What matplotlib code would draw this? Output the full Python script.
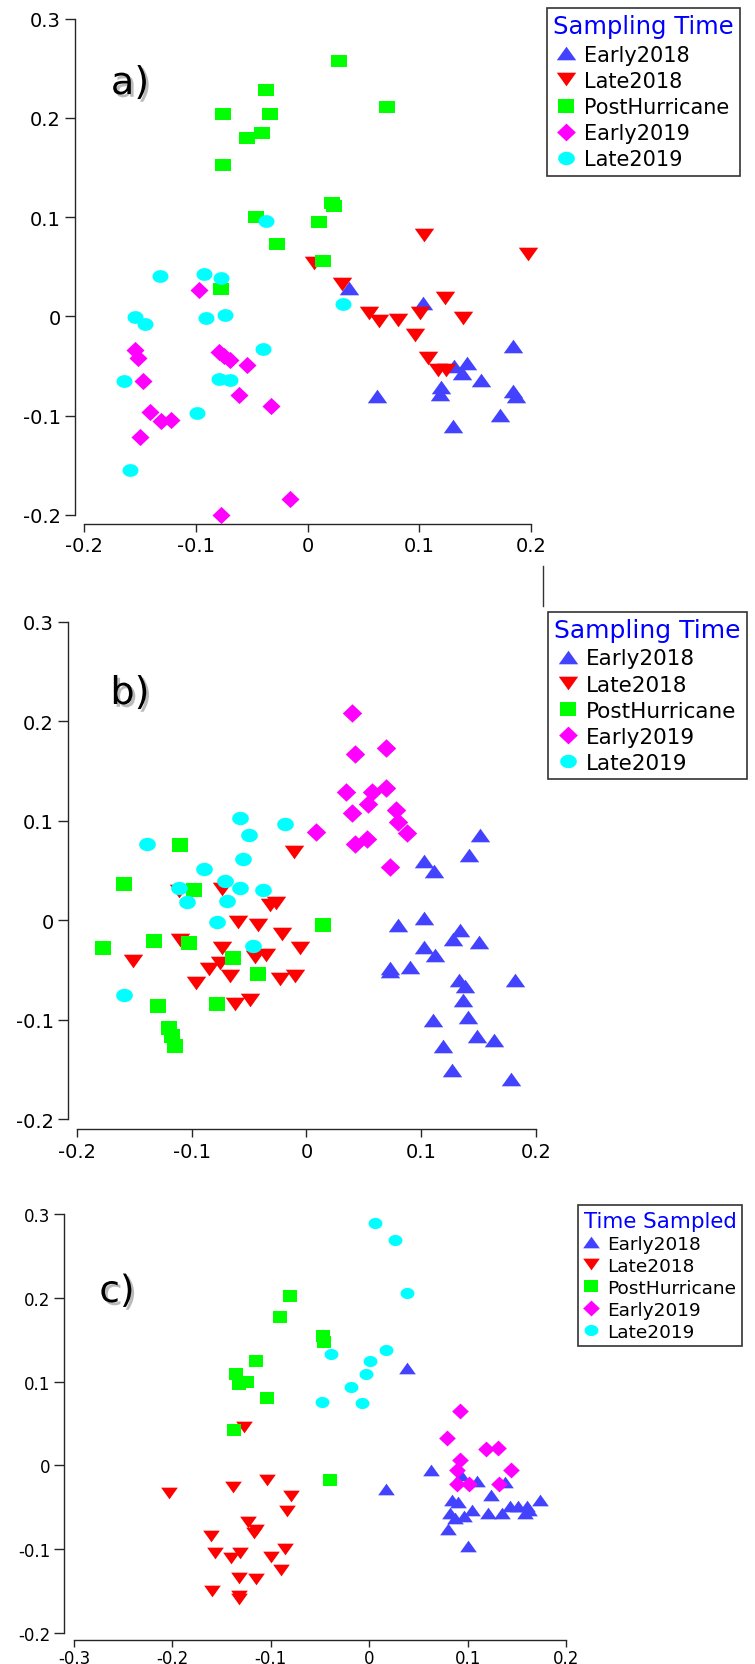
import matplotlib
matplotlib.use('Agg')
import matplotlib.pyplot as plt
import numpy as np
from matplotlib.path import Path
from matplotlib.lines import Line2D
import matplotlib.patheffects as pe

plt.rcParams['font.family'] = ['DejaVu Sans']

W, H, DPI = 755, 1665, 100

# ---------------- data ----------------
GROUPS = ['Early2018', 'Late2018', 'PostHurricane', 'Early2019', 'Late2019']
COLORS = ['#4343FF', '#FF0000', '#00FF00', '#FF00FF', '#00FFFF']

TICKS_AB_X = [-0.2, -0.1, 0.0, 0.1, 0.2]
TICKLABELS_AB_X = ['-0.2', '-0.1', '0', '0.1', '0.2']
TICKS_C_X = [-0.3, -0.2, -0.1, 0.0, 0.1, 0.2]
TICKLABELS_C_X = ['-0.3', '-0.2', '-0.1', '0', '0.1', '0.2']
TICKS_Y = [-0.2, -0.1, 0.0, 0.1, 0.2, 0.3]
TICKLABELS_Y = ['-0.2', '-0.1', '0', '0.1', '0.2', '0.3']

# panel a
A_E18_X = [0.037, 0.103, 0.062, 0.1195, 0.119, 0.131, 0.143, 0.138, 0.155, 0.130, 0.172, 0.184, 0.184, 0.187]
A_E18_Y = [0.029, 0.014, -0.080, -0.071, -0.078, -0.050, -0.047, -0.057, -0.064, -0.110, -0.099, -0.030, -0.075, -0.080]
A_L18_X = [0.006, 0.0305, 0.104, 0.197, 0.055, 0.064, 0.081, 0.101, 0.123, 0.139, 0.096, 0.108, 0.117, 0.124]
A_L18_Y = [0.054, 0.033, 0.082, 0.063, 0.004, -0.005, -0.004, 0.004, 0.019, -0.002, -0.019, -0.042, -0.054, -0.054]
A_PH_X = [0.028, -0.037, -0.076, -0.034, -0.054, -0.041, -0.076, 0.071, 0.022, 0.024, -0.046, 0.010, -0.027, 0.014, -0.077]
A_PH_Y = [0.257, 0.228, 0.204, 0.204, 0.180, 0.185, 0.153, 0.211, 0.114, 0.111, 0.100, 0.095, 0.073, 0.056, 0.028]
A_E19_X = [-0.097, -0.154, -0.1515, -0.147, -0.141, -0.1315, -0.122, -0.150, -0.079, -0.075, -0.069, -0.054, -0.061, -0.033, -0.016, -0.077]
A_E19_Y = [0.027, -0.034, -0.042, -0.065, -0.096, -0.105, -0.104, -0.121, -0.036, -0.040, -0.044, -0.049, -0.079, -0.090, -0.184, -0.200]
A_L19_X = [-0.037, -0.132, -0.093, -0.077, -0.154, -0.145, -0.091, -0.074, 0.032, -0.040, -0.164, -0.079, -0.069, -0.099, -0.159]
A_L19_Y = [0.096, 0.041, 0.043, 0.039, -0.001, -0.008, -0.002, 0.001, 0.0125, -0.033, -0.065, -0.0625, -0.064, -0.097, -0.155]

# panel b
B_E18_X = [0.151, 0.142, 0.102, 0.111, 0.080, 0.102, 0.134, 0.128, 0.150, 0.102, 0.112, 0.073, 0.090, 0.0725,
           0.133, 0.138, 0.136, 0.182, 0.141, 0.110, 0.149, 0.163, 0.119, 0.127, 0.178]
B_E18_Y = [0.086, 0.066, 0.060, 0.050, -0.005, 0.002, -0.010, -0.019, -0.022, -0.027, -0.035, -0.048, -0.047, -0.051,
           -0.060, -0.066, -0.080, -0.060, -0.097, -0.100, -0.116, -0.121, -0.127, -0.151, -0.160]
B_L18_X = [-0.011, -0.151, -0.110, -0.111, -0.074, -0.032, -0.027, -0.060, -0.042, -0.021, -0.006, -0.074, -0.045,
           -0.035, -0.075, -0.085, -0.067, -0.096, -0.023, -0.010, -0.062, -0.049]
B_L18_Y = [0.069, -0.041, -0.020, 0.029, 0.031, 0.015, 0.017, -0.002, -0.005, -0.014, -0.028, -0.028, -0.037,
           -0.035, -0.043, -0.049, -0.056, -0.063, -0.059, -0.056, -0.084, -0.080]
B_PH_X = [-0.110, -0.159, -0.098, -0.177, -0.133, -0.102, -0.064, -0.042, 0.014, -0.129, -0.078, -0.120, -0.117, -0.115]
B_PH_Y = [0.076, 0.036, 0.030, -0.028, -0.021, -0.023, -0.038, -0.054, -0.005, -0.086, -0.084, -0.108, -0.117, -0.127]
B_E19_X = [0.040, 0.042, 0.069, 0.034, 0.057, 0.069, 0.054, 0.040, 0.078, 0.080, 0.088, 0.042, 0.053, 0.0085, 0.073]
B_E19_Y = [0.208, 0.167, 0.173, 0.129, 0.129, 0.133, 0.117, 0.108, 0.111, 0.099, 0.088, 0.077, 0.082, 0.089, 0.054]
B_L19_X = [-0.058, -0.019, -0.050, -0.139, -0.055, -0.089, -0.071, -0.111, -0.058, -0.038, -0.104, -0.069, -0.078, -0.047, -0.159]
B_L19_Y = [0.103, 0.097, 0.086, 0.077, 0.062, 0.052, 0.039, 0.032, 0.032, 0.030, 0.018, 0.019, -0.002, -0.026, -0.075]

# panel c
C_E18_X = [0.038, 0.063, 0.017, 0.093, 0.1095, 0.138, 0.124, 0.084, 0.090, 0.104, 0.121, 0.096, 0.082, 0.0875,
           0.080, 0.100, 0.135, 0.143, 0.151, 0.160, 0.158, 0.174, 0.162]
C_E18_Y = [0.116, -0.006, -0.028, -0.012, -0.0185, -0.020, -0.035, -0.041, -0.044, -0.053, -0.057, -0.060, -0.057, -0.063,
           -0.076, -0.096, -0.057, -0.048, -0.048, -0.048, -0.057, -0.041, -0.053]
C_L18_X = [-0.203, -0.138, -0.104, -0.079, -0.084, -0.127, -0.123, -0.115, -0.117, -0.161, -0.157, -0.140, -0.131,
           -0.100, -0.086, -0.090, -0.132, -0.115, -0.160, -0.132, -0.132]
C_L18_Y = [-0.033, -0.026, -0.018, -0.037, -0.055, 0.046, -0.068, -0.077, -0.081, -0.084, -0.104, -0.111, -0.104,
           -0.109, -0.100, -0.125, -0.134, -0.135, -0.150, -0.156, -0.160]
C_PH_X = [-0.0805, -0.091, -0.047, -0.0455, -0.115, -0.135, -0.132, -0.124, -0.104, -0.137, -0.040]
C_PH_Y = [0.202, 0.177, 0.154, 0.147, 0.125, 0.109, 0.097, 0.099, 0.081, 0.042, -0.018]
C_E19_X = [0.0925, 0.079, 0.119, 0.131, 0.0925, 0.089, 0.144, 0.089, 0.101, 0.1315]
C_E19_Y = [0.065, 0.0325, 0.019, 0.0205, 0.007, -0.006, -0.006, -0.0225, -0.0225, -0.022]
C_L19_X = [0.006, 0.026, 0.038, -0.039, 0.017, 0.001, -0.003, -0.018, -0.048, -0.007]
C_L19_Y = [0.289, 0.269, 0.206, 0.133, 0.138, 0.124, 0.109, 0.094, 0.076, 0.074]

# ---------------- markers ----------------
def closed(verts):
    verts = list(verts) + [verts[0]]
    return Path(verts, closed=True)

t = np.linspace(0, 2 * np.pi, 64, endpoint=False)
MARKERS = [
    closed([(-1, -0.7), (1, -0.7), (0, 0.7)]),
    closed([(-1, 0.7), (1, 0.7), (0, -0.7)]),
    closed([(-1, -0.8), (1, -0.8), (1, 0.8), (-1, 0.8)]),
    closed([(-1, 0), (0, -0.95), (1, 0), (0, 0.95)]),
    closed(list(zip(np.cos(t), 0.8 * np.sin(t)))),
]

fig = plt.figure(figsize=(W / DPI, H / DPI), dpi=DPI)
fig.patch.set_facecolor('white')
PX = 72.0 / DPI  # points per pixel


def make_panel(box, xlim, xticks, xlabels, off_left, off_bottom, fs, series, sizes, xtick_len=6.0, xpad=3.0):
    l, r, t_, b = box
    ax = fig.add_axes([l / W, 1 - b / H, (r - l) / W, (b - t_) / H])
    ax.set_xlim(xlim)
    ax.set_ylim(-0.2, 0.3)
    ax.patch.set_alpha(0)
    for s in ['top', 'right']:
        ax.spines[s].set_visible(False)
    ax.spines['left'].set_position(('outward', off_left * PX))
    ax.spines['bottom'].set_position(('outward', off_bottom * PX))
    for s in ['left', 'bottom']:
        ax.spines[s].set_color('#262626')
        ax.spines[s].set_linewidth(1.0)
    ax.set_xticks(xticks)
    ax.set_xticklabels(xlabels)
    ax.set_yticks(TICKS_Y)
    ax.set_yticklabels(TICKLABELS_Y)
    ax.tick_params(axis='y', length=7.0, width=1.0, pad=3.0, labelsize=fs, color='#262626')
    ax.tick_params(axis='x', length=xtick_len, width=1.0, pad=xpad, labelsize=fs, color='#262626')
    for i, (xs, ys) in enumerate(series):
        ax.scatter(xs, ys, s=sizes[i] ** 2, marker=MARKERS[i], c=COLORS[i],
                   linewidths=0, clip_on=False, zorder=3 + i)
    return ax


def add_legend(ax, x, y, title, fs, tfs, sizes, labelspacing, borderpad):
    handles = [Line2D([], [], linestyle='None', marker=MARKERS[i], color=COLORS[i],
                      markersize=sizes[i], markeredgewidth=0) for i in range(5)]
    leg = ax.legend(handles, GROUPS, loc='upper left', bbox_to_anchor=(x / W, 1 - y / H),
                    bbox_transform=fig.transFigure, borderaxespad=0, frameon=True,
                    fancybox=False, edgecolor='#333333', framealpha=1,
                    title=title, fontsize=fs, title_fontsize=tfs,
                    handlelength=0.8, handletextpad=0.45, labelspacing=labelspacing,
                    borderpad=borderpad, markerscale=1)
    leg.get_title().set_color('#0000FF')
    leg.get_frame().set_linewidth(1.2)
    leg.set_zorder(20)
    return leg


SIZES_A = [14.0, 14.0, 11.5, 13.0, 11.5]
SIZES_B = [14.0, 14.0, 12.0, 14.0, 12.0]
SIZES_C = [12.0, 12.0, 10.0, 12.0, 10.0]
SIZES_LEG = [14.0, 14.0, 12.0, 13.5, 12.0]

ax_a = make_panel((84, 531, 19.7, 516), (-0.2, 0.2), TICKS_AB_X, TICKLABELS_AB_X, 9, 9, 14,
                  [(A_E18_X, A_E18_Y), (A_L18_X, A_L18_Y), (A_PH_X, A_PH_Y), (A_E19_X, A_E19_Y), (A_L19_X, A_L19_Y)],
                  SIZES_A)
ax_b = make_panel((77, 536, 623, 1120), (-0.2, 0.2), TICKS_AB_X, TICKLABELS_AB_X, 9.3, 10, 14,
                  [(B_E18_X, B_E18_Y), (B_L18_X, B_L18_Y), (B_PH_X, B_PH_Y), (B_E19_X, B_E19_Y), (B_L19_X, B_L19_Y)],
                  SIZES_B)
ax_c = make_panel((74, 566, 1215, 1634), (-0.3, 0.2), TICKS_C_X, TICKLABELS_C_X, 10, 7, 12,
                  [(C_E18_X, C_E18_Y), (C_L18_X, C_L18_Y), (C_PH_X, C_PH_Y), (C_E19_X, C_E19_Y), (C_L19_X, C_L19_Y)],
                  SIZES_C, xtick_len=5.0, xpad=1.5)

add_legend(ax_a, 547, 9, 'Sampling Time', 15, 17.5, SIZES_LEG, 0.3, 0.3)
add_legend(ax_b, 548, 613, 'Sampling Time', 15.5, 18, SIZES_LEG, 0.28, 0.3)
add_legend(ax_c, 578, 1206, 'Time Sampled', 13.3, 15.4, SIZES_C, 0.22, 0.3)

shadow = [pe.withSimplePatchShadow(offset=(2, -2), shadow_rgbFace='#8c8c8c', alpha=0.6)]
for lab, (cx, cy), fs in [('a)', (130, 85), 27.5), ('b)', (130, 695), 27.5), ('c)', (117, 1293), 27)]:
    fig.text(cx / W, 1 - cy / H, lab, fontsize=fs, ha='center', va='center', path_effects=shadow)

# short stray frame line between panels a and b
fig.add_artist(Line2D([543 / W, 543 / W], [1 - 567 / H, 1 - 607 / H], transform=fig.transFigure,
                      color='#333333', linewidth=1.0))

fig.savefig('out.png', dpi=DPI, facecolor='white')
